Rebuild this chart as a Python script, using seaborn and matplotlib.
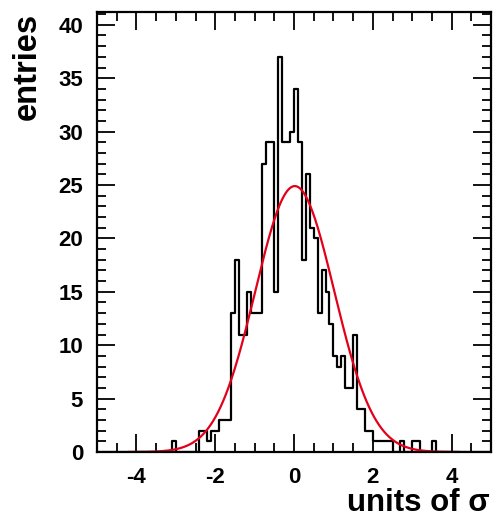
import numpy as np
import pandas as pd
import matplotlib
matplotlib.use("Agg")
import matplotlib.pyplot as plt
import seaborn as sns
from matplotlib.ticker import MultipleLocator

# ---- data ----
bin_width = 0.1
first_low_edge = -3.2          # lower edge of first listed bin
counts = [
    0, 1, 0, 0, 0, 0, 0, 0,        # -3.2 .. -2.5
    2, 2, 1, 2, 2, 3, 3, 3,        # -2.4 .. -1.7
    13, 18, 11, 11, 15, 13, 13, 13,  # -1.6 .. -0.9
    27, 29, 29, 15, 37, 29, 29, 30,  # -0.8 .. -0.1
    34, 29, 18, 26, 21, 20, 13, 17,  # 0.0 .. 0.7
    15, 12, 9, 8, 9, 6, 6, 11,       # 0.8 .. 1.5
    4, 4, 2, 2, 1, 1, 1, 1,          # 1.6 .. 2.3
    1, 0, 0, 1, 0, 0, 1, 1,          # 2.4 .. 3.1
    0, 0, 0, 1, 0,                   # 3.2 .. 3.6
]
fit_constant = 24.9
fit_mean = 0.02
fit_sigma = 1.0
fit_range = (-4.2, 4.2)

x_ticks = [-4, -2, 0, 2, 4]
y_ticks = [0, 5, 10, 15, 20, 25, 30, 35, 40]
x_label = "units of σ"
y_label = "entries"

# ---- derived ----
centers = first_low_edge + bin_width * (np.arange(len(counts)) + 0.5)
hist_df = pd.DataFrame({"x": centers, "w": np.asarray(counts, dtype=float)})
xf = np.linspace(fit_range[0], fit_range[1], 400)
yf = fit_constant * np.exp(-0.5 * ((xf - fit_mean) / fit_sigma) ** 2)
fit_df = pd.DataFrame({"x": xf, "y": yf})

sns.set_style("ticks")
plt.rcParams['font.family'] = ['Liberation Sans', 'DejaVu Sans']
plt.rcParams['font.weight'] = 'bold'
plt.rcParams['axes.unicode_minus'] = False
plt.rcParams['text.color'] = 'black'
plt.rcParams['xtick.color'] = 'black'
plt.rcParams['ytick.color'] = 'black'

fig = plt.figure(figsize=(4.94, 5.21), dpi=100)
ax = fig.add_axes([97/494, 1-452/521, (491-97)/494, (452-12)/521])

sns.histplot(data=hist_df, x="x", weights="w", binwidth=bin_width,
             binrange=(-5, 5), element="step", fill=False, color="black",
             linewidth=1.6, ax=ax)
sns.lineplot(data=fit_df, x="x", y="y", color="#e3001b", linewidth=1.6, ax=ax)

ax.set_xlim(-5, 5)
ax.set_ylim(0, 41.2)
ax.set_xlabel("")
ax.set_ylabel("")
ax.set_xticks(x_ticks)
ax.set_yticks(y_ticks)
ax.xaxis.set_minor_locator(MultipleLocator(0.5))
ax.yaxis.set_minor_locator(MultipleLocator(1))
ax.tick_params(which="both", direction="in", top=True, right=True,
               width=1.3, colors="black")
ax.tick_params(which="major", length=13)
ax.tick_params(which="minor", length=6.5)
ax.tick_params(axis="x", which="major", labelsize=16, pad=11)
ax.tick_params(axis="y", which="major", labelsize=16, pad=10)
for lab in ax.get_xticklabels() + ax.get_yticklabels():
    lab.set_fontweight("bold")
    lab.set_color("black")
for sp in ax.spines.values():
    sp.set_linewidth(1.6)
    sp.set_color("black")
    sp.set_visible(True)

fig.text(27/494, 1-13/521, y_label, rotation=90, ha="center", va="top",
         fontsize=23.5, fontweight="bold", color="black")
fig.text(490/494, 3/521, x_label, ha="right", va="bottom",
         fontsize=22.5, fontweight="bold", color="black")

fig.savefig("out.png", dpi=100)
